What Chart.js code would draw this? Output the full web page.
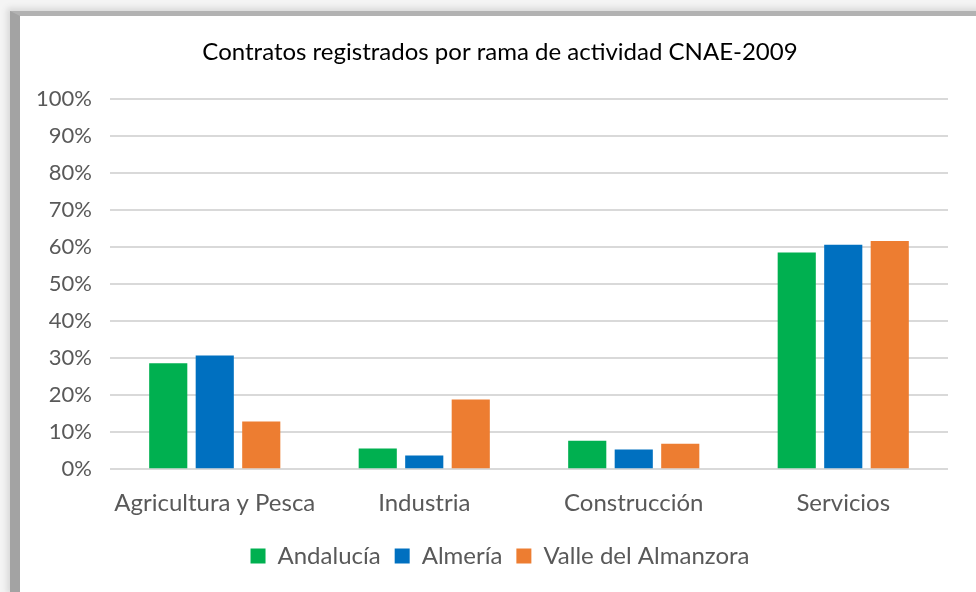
<!DOCTYPE html>
<html>
<head>
<meta charset="utf-8">
<script src="https://cdn.jsdelivr.net/npm/chart.js@4.4.1/dist/chart.umd.min.js"></script>
<style>
    html, body { margin: 0; padding: 0; background: #f4f4f4; }
    .frame {
        position: absolute;
        left: 10px;
        top: 11px;
        width: 966px;
        height: 581px;
        background: #fff;
        border-top: 5px solid #b2b2b2;
        border-left: 10px solid #a3a3a3;
        box-shadow: -3px -3px 6px #d8d8d8;
    }
    #wrap { position: absolute; left: 0; top: 0; width: 976px; height: 592px; }
</style>
</head>
<body>
<div class="frame"></div>
<div id="wrap"><canvas id="myChart"></canvas></div>
<script>
const categories = ["Agricultura y Pesca", "Industria", "Construcción", "Servicios"];
const andalucia = [28.6, 5.6, 7.7, 58.5];
const almeria = [30.7, 3.7, 5.3, 60.6];
const valle = [12.9, 18.8, 6.9, 61.6];

const myChart = document.getElementById("myChart");

new Chart(myChart, {
    type: "bar",
    data: {
        labels: categories,
        datasets: [
            { label: "Andalucía", data: andalucia, backgroundColor: "#00b050" },
            { label: "Almería", data: almeria, backgroundColor: "#0070c0" },
            { label: "Valle del Almanzora", data: valle, backgroundColor: "#ed7d31" },
        ],
    },
    options: {
        responsive: true,
        maintainAspectRatio: false,
        animation: false,
        categoryPercentage: 0.666,
        barPercentage: 0.82,
        layout: {
            padding: { left: 37, right: 13, top: 38, bottom: 14 },
        },
        scales: {
            x: {
                grid: { display: false },
                border: { display: false },
                afterFit: (scale) => {
                    // labels may hang over the edges, like in the original
                    scale.paddingLeft = 0;
                    scale.paddingRight = 28;
                },
                ticks: {
                    color: "#595959",
                    font: { family: "Lato", size: 24 },
                    padding: 12,
                    maxRotation: 0,
                    minRotation: 0,
                    autoSkip: false,
                },
            },
            y: {
                min: 0,
                max: 100,
                border: { display: false },
                grid: { color: "#d9d9d9", lineWidth: 2, drawTicks: false },
                afterFit: (scale) => {
                    scale.width = 73;
                },
                ticks: {
                    stepSize: 10,
                    color: "#595959",
                    font: { family: "Lato", size: 22 },
                    padding: 18,
                    callback: (v) => v + "%",
                },
            },
        },
        plugins: {
            title: {
                display: true,
                text: "Contratos registrados por rama de actividad CNAE-2009",
                color: "#000",
                font: { family: "Lato", size: 24, weight: "normal" },
                padding: { top: 0, bottom: 32 },
            },
            legend: {
                position: "bottom",
                labels: {
                    color: "#595959",
                    font: { family: "Lato", size: 24 },
                    boxWidth: 15,
                    boxHeight: 15,
                    padding: 14,
                },
            },
            tooltip: { enabled: false },
        },
    },
});
</script>
</body>
</html>
